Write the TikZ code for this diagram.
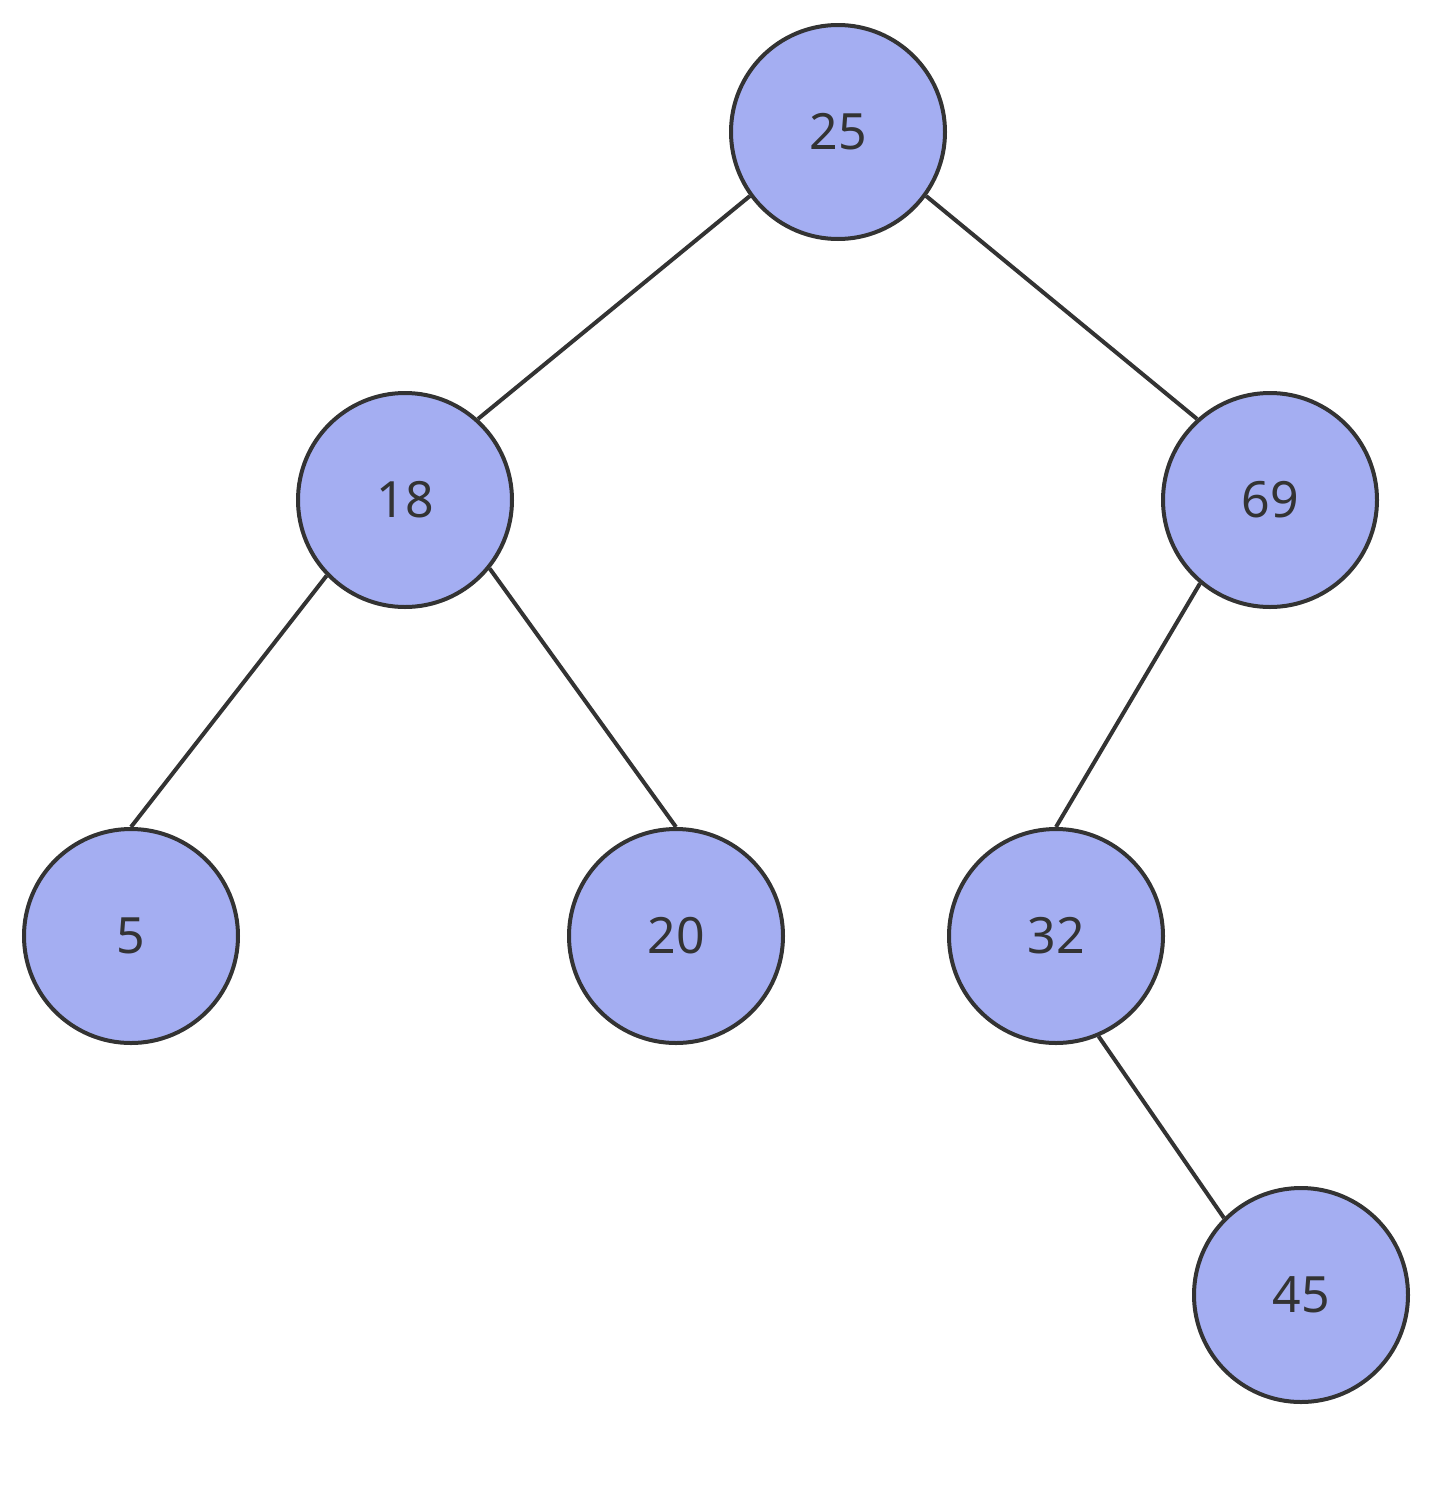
\documentclass[tikz,border=0pt]{standalone}
\usepackage{fontspec}
\setmainfont{Noto Sans}
\definecolor{nodefill}{HTML}{A4AEF2}
\definecolor{ink}{HTML}{333333}
\begin{document}
\begin{tikzpicture}[x=0.5pt,y=-0.5pt,
  treenode/.style={circle,draw=ink,fill=nodefill,line width=2pt,minimum size=107pt,inner sep=0pt,
    text=ink,font=\fontsize{25}{29}\selectfont},
  edge/.style={draw=ink,line width=2pt}]
\useasboundingbox (0,0) rectangle (1432,1489);
\node[treenode] (n25) at (838,132) {25};
\node[treenode] (n18) at (405,500) {18};
\node[treenode] (n69) at (1270,500) {69};
\node[treenode] (n5) at (131,936) {5};
\node[treenode] (n20) at (676,936) {20};
\node[treenode] (n32) at (1056,936) {32};
\node[treenode] (n45) at (1301,1295) {45};
\draw[edge] (n25.216) -- (n18.48);
\draw[edge] (n25.324) -- (n69.132);
\draw[edge] (n18.224) -- (n5.north);
\draw[edge] (n18.321) -- (n20.north);
\draw[edge] (n69.230) -- (n32.north);
\draw[edge] (n32.293) -- (n45.135);
\end{tikzpicture}
\end{document}
